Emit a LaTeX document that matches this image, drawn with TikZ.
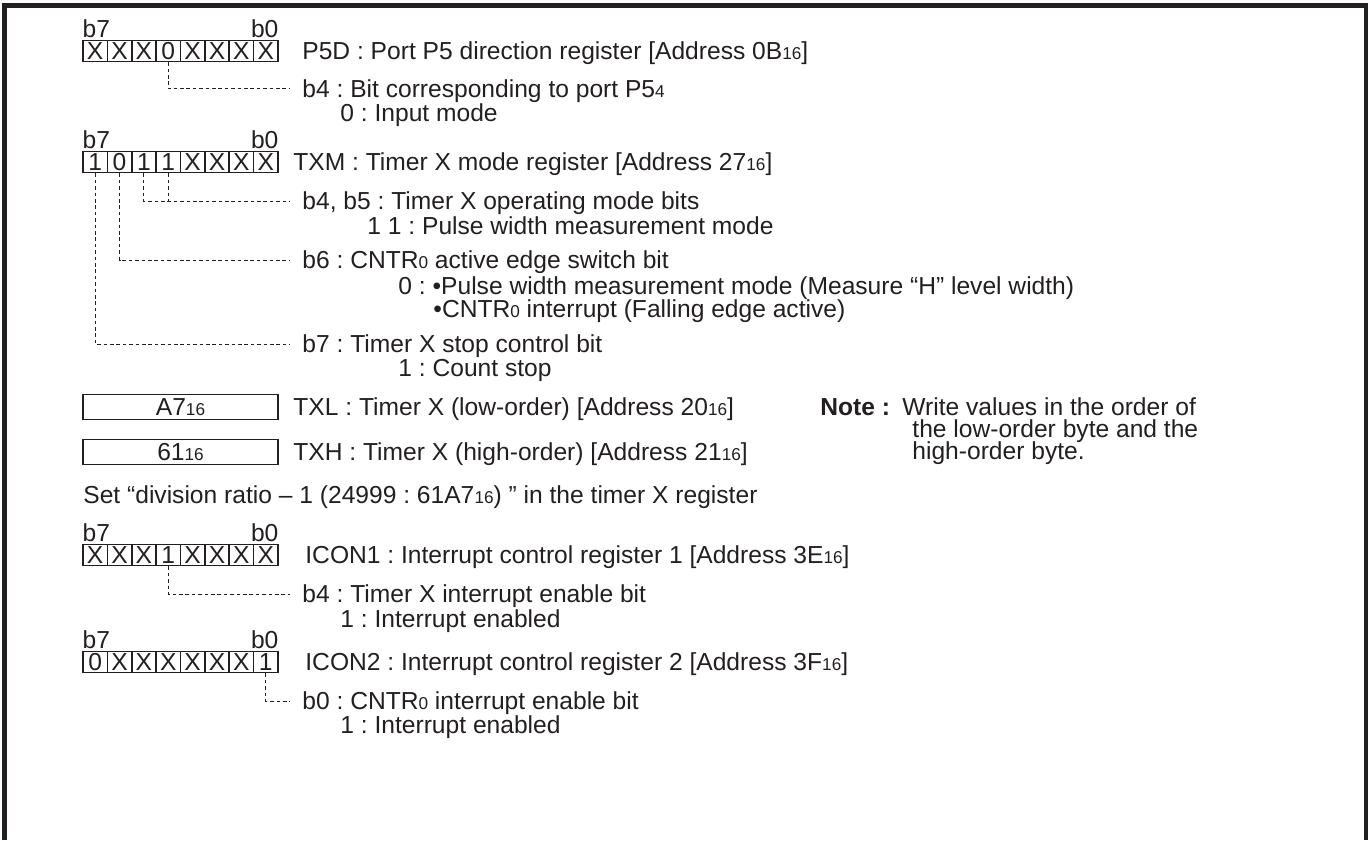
\documentclass[tikz,border=0pt]{standalone}
\usepackage{fontspec}
\setmainfont{Liberation Sans}
\usetikzlibrary{positioning}
\frenchspacing
\definecolor{ink}{RGB}{35,31,32}
\newcommand{\figfont}{\fontsize{12.3}{14}\selectfont}
\newcommand{\lowsub}[1]{{\fontsize{8.6}{9}\selectfont #1}}
\tikzset{
    % one bit of a register
    bitcell/.style={draw=ink, line width=0.8pt, minimum width=12.19pt,
        minimum height=10.5pt, inner sep=0pt, text=ink},
    % a whole byte written as one value
    bytebox/.style={draw=ink, line width=0.8pt, minimum width=97.5pt,
        minimum height=12.5pt, inner sep=0pt, text=ink},
    % plain text, left aligned, west anchor on the middle of the capitals
    txt/.style={anchor=west, inner sep=0pt, text height=8.8pt, text depth=0pt, text=ink},
    bitlab/.style={inner sep=0pt, text=ink},
    leader/.style={draw=ink, line width=0.5pt, dash pattern=on 1.8pt off 1.4pt},
}
% register: name, y of the cells, bit values b7 ... b0
\newcommand{\bitrow}[3]{%
  \foreach \v [count=\i from 0] in {#3} {
    \pgfmathtruncatemacro{\bitno}{7-\i}
    \node[bitcell] (#1\bitno) at (95.19+24.375*\i,#2) {\v};
  }
  \node[bitlab,anchor=base west] (#1hi) at ([yshift=1.2pt]#17.north west) {b7};
  \node[bitlab,anchor=base east] (#1lo) at ([yshift=1.2pt]#10.north east) {b0};
}

\begin{document}
\begin{tikzpicture}[x=0.5pt,y=-0.5pt,font=\figfont]
  \useasboundingbox (0,0) rectangle (1369,840);
  % frame (open at the bottom)
  \draw[ink,line width=2.25pt] (4.7,840) -- (4.7,5.5) -- (1366,5.5) -- (1366,840);

  % port P5 direction register
  \bitrow{p5d}{51}{X,X,X,0,X,X,X,X}
  \node[txt] (p5dname) at (302,51) {P5D : Port P5 direction register [Address 0B\lowsub{16}]};
  \node[txt] (p5db4) at (302,89) {b4 : Bit corresponding to port P5\lowsub{4}};
  \node[txt] (p5dv) at (340,113) {0 : Input mode};
  \draw[leader] (p5d4.south) |- ([xshift=-6pt]p5db4.west);

  % timer X mode register
  \bitrow{txm}{162}{1,0,1,1,X,X,X,X}
  \node[txt] (txmname) at (293,162) {TXM : Timer X mode register [Address 27\lowsub{16}]};
  \node[txt] (txmb45) at (302,201) {b4, b5 : Timer X operating mode bits};
  \node[txt] (txmv45) at (367,226) {1 1 : Pulse width measurement mode};
  \node[txt] (txmb6) at (302,260) {b6 : CNTR\lowsub{0} active edge switch bit};
  \node[txt] (txmv6a) at (398,286) {0 : •Pulse width measurement mode (Measure “H” level width)};
  \node[txt] (txmv6b) at (433,309) {•CNTR\lowsub{0} interrupt (Falling edge active)};
  \node[txt] (txmb7) at (302,344) {b7 : Timer X stop control bit};
  \node[txt] (txmv7) at (398,368) {1 : Count stop};
  \draw[leader] (txm5.south) |- ([xshift=-6pt]txmb45.west);
  \draw[leader] (txm4.south) -- (txm4.south |- txmb45.west);
  \draw[leader] (txm6.south) |- ([xshift=-6pt]txmb6.west);
  \draw[leader] (txm7.south) |- ([xshift=-6pt]txmb7.west);

  % timer X value
  \node[bytebox] (txl) at (180.5,407) {A7\lowsub{16}};
  \node[txt] (txlname) at (293,407) {TXL : Timer X (low-order) [Address 20\lowsub{16}]};
  \node[bytebox] (txh) at (180.5,452) {61\lowsub{16}};
  \node[txt] (txhname) at (293,452) {TXH : Timer X (high-order) [Address 21\lowsub{16}]};
  \node[txt,font=\figfont\bfseries] (note) at (820,407) {Note :};
  \node[txt] (note1) at (902,407) {Write values in the order of};
  \node[txt] (note2) at (912,429) {the low-order byte and the};
  \node[txt] (note3) at (912,451) {high-order byte.};
  \node[txt] (setline) at (83,495) {Set “division ratio – 1 (24999 : 61A7\lowsub{16}) ” in the timer X register};

  % interrupt control registers
  \bitrow{iconone}{555}{X,X,X,1,X,X,X,X}
  \node[txt] (icononename) at (305,555) {ICON1 : Interrupt control register 1 [Address 3E\lowsub{16}]};
  \node[txt] (icononeb4) at (302,594) {b4 : Timer X interrupt enable bit};
  \node[txt] (icononev) at (340,619) {1 : Interrupt enabled};
  \draw[leader] (iconone4.south) |- ([xshift=-6pt]icononeb4.west);

  \bitrow{icontwo}{662}{0,X,X,X,X,X,X,1}
  \node[txt] (icontwoname) at (305,662) {ICON2 : Interrupt control register 2 [Address 3F\lowsub{16}]};
  \node[txt] (icontwob0) at (302,701) {b0 : CNTR\lowsub{0} interrupt enable bit};
  \node[txt] (icontwov) at (340,725) {1 : Interrupt enabled};
  \draw[leader] (icontwo0.south) |- ([xshift=-6pt]icontwob0.west);
\end{tikzpicture}
\end{document}
